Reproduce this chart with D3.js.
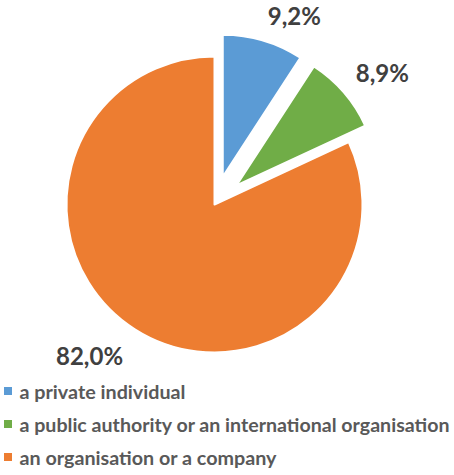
<!DOCTYPE html>
<html>
<head>
<meta charset="utf-8">
<script src="https://cdn.jsdelivr.net/npm/d3@7"></script>
<style>
  body { margin: 0; background: #fff; }
  svg { display: block; }
</style>
</head>
<body>
<div id="wrapper"></div>
<script>
// data
const categories = ["a private individual", "a public authority or an international organisation", "an organisation or a company"]
const values = [9.2, 8.9, 82.0]
const labels = ["9,2%", "8,9%", "82,0%"]
const colors = ["#5B9BD5", "#70AD47", "#ED7D31"]
const exploded = [true, true, false]
const legendWidths = [166, 430, 257]

const width = 454
const height = 475
const center = { x: 214.5, y: 204.5 }
const radius = 148
const explodedRadius = 142
const explodeDist = 29

const svg = d3.select("#wrapper").append("svg")
    .attr("width", width)
    .attr("height", height)

const pie = d3.pie().sort(null).value(d => d)
const arcs = pie(values)

const pieGroup = svg.append("g")
    .attr("transform", `translate(${center.x},${center.y})`)

// offset of a slice along its middle angle
const offsetOf = (d, i) => {
    if (!exploded[i]) return [0, 0]
    const mid = (d.startAngle + d.endAngle) / 2
    return [Math.sin(mid) * explodeDist, -Math.cos(mid) * explodeDist]
}
const radiusOf = i => exploded[i] ? explodedRadius : radius

pieGroup.selectAll("path")
    .data(arcs)
    .join("path")
    .attr("transform", (d, i) => `translate(${offsetOf(d, i)})`)
    .attr("d", (d, i) => d3.arc().innerRadius(0).outerRadius(radiusOf(i))(d))
    .attr("fill", (d, i) => colors[i])
    .attr("stroke", "#fff")
    .attr("stroke-width", 2)
    .attr("stroke-linejoin", "round")

// data labels, outside end
const capHeight = 17
pieGroup.selectAll("text.label")
    .data(arcs)
    .join("text")
    .attr("class", "label")
    .each(function (d, i) {
        const mid = (d.startAngle + d.endAngle) / 2
        const [ox, oy] = offsetOf(d, i)
        const r = radiusOf(i) + (exploded[i] ? 16 : 22)
        const x = ox + Math.sin(mid) * r
        const y = oy - Math.cos(mid) * r
        d3.select(this)
            .attr("x", x)
            .attr("y", Math.cos(mid) > 0 ? y : y + capHeight)
            .attr("text-anchor", Math.sin(mid) >= 0 ? "start" : "end")
    })
    .attr("font-family", "Lato, 'Open Sans', sans-serif")
    .attr("font-weight", "bold")
    .attr("font-size", 24)
    .attr("fill", "#404040")
    .text((d, i) => labels[i])

// legend
const legend = svg.append("g")
const rowY = d3.scaleLinear().domain([0, 1]).range([399, 432])
const rows = legend.selectAll("g")
    .data(categories)
    .join("g")
    .attr("transform", (d, i) => `translate(0,${rowY(i)})`)

rows.append("rect")
    .attr("x", 4)
    .attr("y", -12)
    .attr("width", 8)
    .attr("height", 8)
    .attr("fill", (d, i) => colors[i])

rows.append("text")
    .attr("x", 19.5)
    .attr("y", 0)
    .attr("font-family", "Lato, 'Open Sans', sans-serif")
    .attr("font-weight", "bold")
    .attr("font-size", 18)
    .attr("fill", "#595959")
    .attr("textLength", (d, i) => legendWidths[i])
    .attr("lengthAdjust", "spacingAndGlyphs")
    .text(d => d)
</script>
</body>
</html>
